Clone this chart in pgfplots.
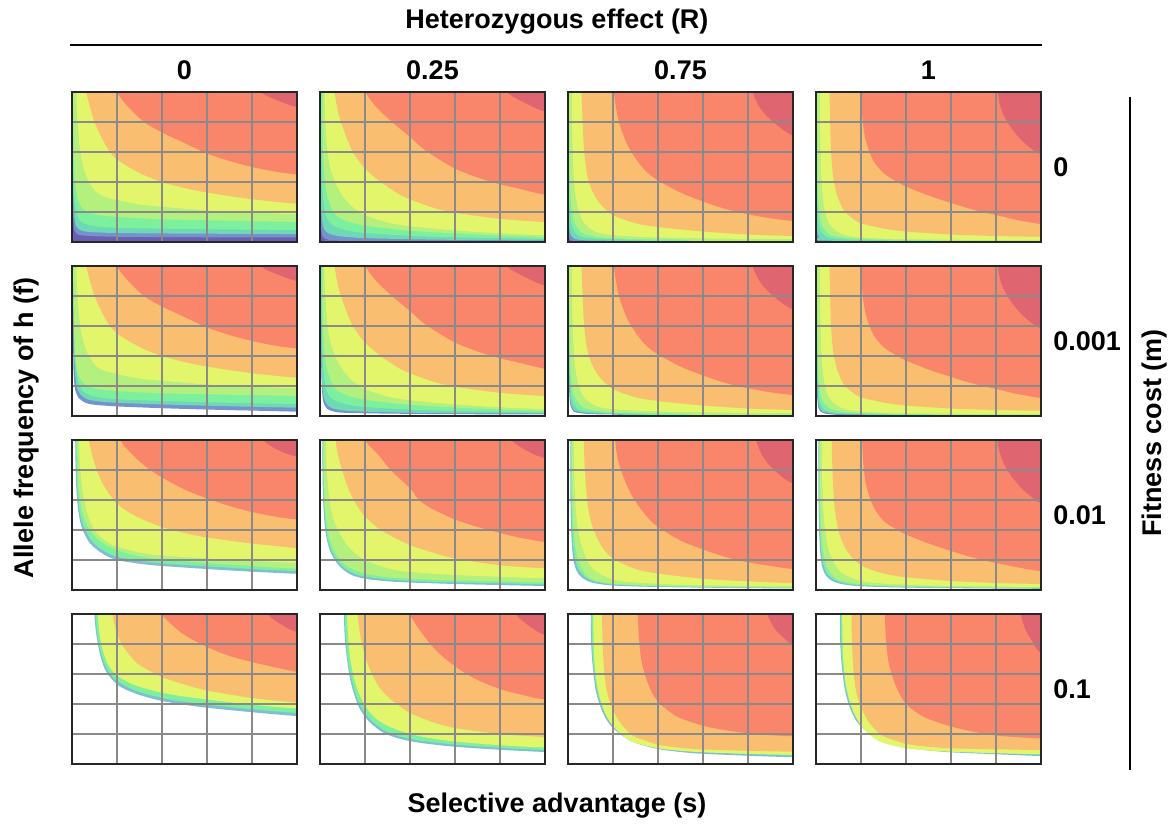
\documentclass[border=0pt]{standalone}
\usepackage{fontspec}
\setmainfont{Liberation Sans}
\usepackage{pgfplots}
\pgfplotsset{compat=1.18}
\definecolor{cD}{HTML}{DF6670}
\definecolor{cR}{HTML}{F9866A}
\definecolor{cO}{HTML}{F9BE70}
\definecolor{cY}{HTML}{E3F56B}
\definecolor{cLG}{HTML}{B3F07E}
\definecolor{cM}{HTML}{7DF09E}
\definecolor{cT}{HTML}{6FD8B4}
\definecolor{cB}{HTML}{7592CF}
\definecolor{cP}{HTML}{6A5FB0}
\definecolor{cOut}{HTML}{80BFD2}
\definecolor{gridc}{HTML}{8A8A8A}
\newcommand{\band}[2]{\addplot[draw=none,fill=#1,smooth,forget plot] coordinates {#2 (1.6,1.6) (-0.6,1.6)};}
\newcommand{\bg}[1]{\addplot[draw=none,fill=#1,forget plot] coordinates {(-0.1,-0.1) (1.1,-0.1) (1.1,1.1) (-0.1,1.1)};}
\pgfplotsset{panel/.style={scale only axis, width=112.5pt, height=75pt,
  xmin=0,xmax=1,ymin=0,ymax=1,
  xtick={0.2,0.4,0.6,0.8}, ytick={0.2,0.4,0.6,0.8},
  xticklabels={}, yticklabels={},
  xticklabel style={opacity=0,text opacity=0}, yticklabel style={opacity=0,text opacity=0},
  tick style={draw=none},
  grid=major, grid style={line width=0.6pt, color=gridc},
  axis line style={line width=0.9pt, black!85},
  axis on top, anchor=south west}}
% ---------- upper bands shared by rows 1 and 2 ----------
\newcommand{\upA}{%
\band{cLG}{(0.005,1.1)(0.006,0.8)(0.009,0.55)(0.014,0.4)(0.025,0.29)(0.05,0.22)(0.1,0.185)(0.2,0.167)(0.4,0.152)(0.7,0.142)(1.0,0.134)(1.1,0.134)}
\band{cY}{(0.018,1.1)(0.019,1.0)(0.025,0.8)(0.035,0.62)(0.05,0.5)(0.075,0.4)(0.11,0.33)(0.15,0.3)(0.2,0.28)(0.3,0.25)(0.4,0.235)(0.6,0.21)(0.8,0.195)(1.0,0.185)(1.1,0.185)}
\band{cO}{(0.063,1.1)(0.064,1.0)(0.08,0.9)(0.1,0.8)(0.13,0.7)(0.16,0.62)(0.2,0.55)(0.3,0.46)(0.4,0.4)(0.5,0.36)(0.6,0.33)(0.8,0.285)(1.0,0.255)(1.1,0.25)}
\band{cR}{(0.2,1.1)(0.2,1.0)(0.25,0.9)(0.32,0.8)(0.4,0.73)(0.5,0.66)(0.6,0.59)(0.7,0.54)(0.8,0.5)(0.9,0.47)(1.0,0.45)(1.1,0.445)}
\band{cD}{(0.83,1.1)(0.84,1.0)(0.92,0.94)(1.0,0.9)(1.1,0.89)}}
\newcommand{\upB}{%
\band{cLG}{(0.01,1.1)(0.011,0.8)(0.015,0.55)(0.022,0.4)(0.035,0.29)(0.06,0.2)(0.1,0.15)(0.2,0.11)(0.4,0.075)(0.7,0.05)(1.0,0.033)(1.1,0.033)}
\band{cY}{(0.018,1.1)(0.019,1.0)(0.024,0.8)(0.032,0.62)(0.045,0.5)(0.07,0.39)(0.1,0.31)(0.14,0.24)(0.2,0.18)(0.3,0.13)(0.4,0.105)(0.6,0.077)(0.8,0.058)(1.0,0.045)(1.1,0.045)}
\band{cO}{(0.063,1.1)(0.065,1.0)(0.08,0.87)(0.1,0.77)(0.125,0.67)(0.15,0.59)(0.2,0.49)(0.27,0.4)(0.35,0.32)(0.4,0.285)(0.5,0.23)(0.6,0.195)(0.8,0.155)(1.0,0.133)(1.1,0.13)}
\band{cR}{(0.203,1.1)(0.203,1.0)(0.25,0.9)(0.32,0.8)(0.4,0.7)(0.46,0.62)(0.52,0.56)(0.6,0.49)(0.7,0.43)(0.8,0.385)(0.9,0.35)(1.0,0.315)(1.1,0.31)}
\band{cD}{(0.82,1.1)(0.83,1.0)(0.92,0.92)(1.0,0.87)(1.1,0.86)}}
\newcommand{\upC}{%
\band{cLG}{(0.005,1.1)(0.006,0.6)(0.01,0.35)(0.02,0.18)(0.04,0.1)(0.08,0.05)(0.2,0.025)(0.5,0.016)(1.1,0.012)}
\band{cY}{(0.017,1.1)(0.018,0.8)(0.022,0.55)(0.03,0.35)(0.045,0.22)(0.07,0.13)(0.12,0.07)(0.2,0.045)(0.4,0.03)(0.7,0.022)(1.0,0.02)(1.1,0.02)}
\band{cO}{(0.058,1.1)(0.06,1.0)(0.065,0.8)(0.072,0.6)(0.085,0.45)(0.105,0.35)(0.14,0.26)(0.2,0.18)(0.3,0.125)(0.4,0.1)(0.6,0.07)(0.8,0.05)(1.0,0.04)(1.1,0.04)}
\band{cR}{(0.203,1.1)(0.204,1.0)(0.215,0.88)(0.23,0.78)(0.26,0.66)(0.29,0.58)(0.34,0.48)(0.4,0.41)(0.5,0.33)(0.6,0.27)(0.7,0.22)(0.8,0.185)(0.9,0.158)(1.0,0.14)(1.1,0.135)}
\band{cD}{(0.815,1.1)(0.82,1.0)(0.86,0.88)(0.92,0.79)(1.0,0.71)(1.1,0.69)}}
\newcommand{\upD}{%
\band{cLG}{(0.005,1.1)(0.006,0.6)(0.01,0.3)(0.02,0.15)(0.04,0.08)(0.08,0.04)(0.2,0.02)(0.5,0.012)(1.1,0.008)}
\band{cY}{(0.017,1.1)(0.018,0.8)(0.022,0.5)(0.03,0.3)(0.045,0.17)(0.07,0.1)(0.12,0.05)(0.2,0.03)(0.4,0.018)(1.0,0.012)(1.1,0.012)}
\band{cO}{(0.058,1.1)(0.06,1.0)(0.063,0.8)(0.067,0.6)(0.075,0.45)(0.09,0.33)(0.12,0.22)(0.16,0.16)(0.2,0.125)(0.3,0.09)(0.4,0.07)(0.6,0.05)(0.8,0.04)(1.0,0.035)(1.1,0.035)}
\band{cR}{(0.2,1.1)(0.2,1.0)(0.205,0.85)(0.215,0.72)(0.235,0.61)(0.26,0.53)(0.3,0.46)(0.35,0.41)(0.4,0.37)(0.5,0.31)(0.6,0.26)(0.7,0.215)(0.8,0.18)(0.9,0.145)(1.0,0.12)(1.1,0.115)}
\band{cD}{(0.805,1.1)(0.808,1.0)(0.82,0.9)(0.85,0.8)(0.9,0.7)(0.95,0.63)(1.0,0.585)(1.1,0.57)}}
\begin{document}
\begin{tikzpicture}
\path[use as bounding box] (0pt,0pt) rectangle (584pt,412.5pt);
% ================= ROW 1 (m = 0) =================
\begin{axis}[panel, at={(36pt,291.5pt)}]
\bg{cP}
\band{cB}{(-0.01,0.22)(0.004,0.18)(0.008,0.1)(0.015,0.065)(0.03,0.048)(0.08,0.04)(0.2,0.035)(0.5,0.032)(1.0,0.03)(1.1,0.03)}
\band{cT}{(-0.01,0.45)(0.004,0.35)(0.008,0.2)(0.015,0.12)(0.03,0.085)(0.07,0.068)(0.2,0.06)(0.5,0.056)(1.0,0.053)(1.1,0.053)}
\band{cM}{(0.002,1.1)(0.003,0.8)(0.005,0.5)(0.009,0.32)(0.018,0.2)(0.04,0.135)(0.1,0.105)(0.2,0.095)(0.5,0.087)(1.0,0.08)(1.1,0.08)}
\upA
\end{axis}
\begin{axis}[panel, at={(160pt,291.5pt)}]
\bg{cP}
\band{cB}{(-0.01,0.15)(0.003,0.12)(0.007,0.06)(0.015,0.03)(0.04,0.015)(0.1,0.008)(1.1,0.0)}
\band{cT}{(-0.01,0.5)(0.003,0.35)(0.006,0.2)(0.013,0.11)(0.03,0.065)(0.08,0.04)(0.2,0.026)(0.5,0.016)(1.0,0.01)(1.1,0.01)}
\band{cM}{(0.004,1.1)(0.005,0.7)(0.008,0.45)(0.013,0.3)(0.025,0.18)(0.05,0.12)(0.1,0.085)(0.2,0.06)(0.5,0.035)(1.0,0.02)(1.1,0.02)}
\upB
\end{axis}
\begin{axis}[panel, at={(284pt,291.5pt)}]
\bg{cP}
\band{cB}{(-0.01,0.2)(0.002,0.07)(0.006,0.025)(0.02,0.008)(0.1,0.0)(1.1,-0.01)}
\band{cT}{(-0.01,0.7)(0.002,0.25)(0.005,0.1)(0.015,0.04)(0.05,0.015)(0.2,0.008)(1.1,0.004)}
\band{cM}{(0.002,1.1)(0.003,0.5)(0.006,0.25)(0.015,0.12)(0.04,0.05)(0.1,0.025)(0.3,0.014)(1.1,0.008)}
\upC
\end{axis}
\begin{axis}[panel, at={(408pt,291.5pt)}]
\bg{cP}
\band{cB}{(-0.01,0.15)(0.002,0.06)(0.006,0.02)(0.02,0.005)(0.1,-0.01)(1.1,-0.01)}
\band{cT}{(-0.01,0.6)(0.001,0.4)(0.002,0.2)(0.005,0.08)(0.015,0.03)(0.05,0.01)(1.1,0.002)}
\band{cM}{(0.002,1.1)(0.003,0.5)(0.006,0.25)(0.015,0.1)(0.04,0.04)(0.1,0.02)(0.3,0.01)(1.1,0.005)}
\upD
\end{axis}
% ================= ROW 2 (m = 0.001) =================
\begin{axis}[panel, at={(36pt,204.5pt)}]
\band{cB}{(0.004,1.1)(0.005,0.6)(0.006,0.35)(0.009,0.24)(0.015,0.17)(0.03,0.12)(0.06,0.088)(0.1,0.075)(0.2,0.064)(0.4,0.052)(0.6,0.043)(0.8,0.036)(1.0,0.029)(1.1,0.029)}
\band{cT}{(0.006,1.1)(0.007,0.6)(0.01,0.38)(0.014,0.27)(0.022,0.19)(0.04,0.14)(0.07,0.11)(0.12,0.097)(0.2,0.088)(0.4,0.077)(0.7,0.065)(1.0,0.055)(1.1,0.055)}
\band{cM}{(0.008,1.1)(0.009,0.7)(0.012,0.45)(0.018,0.32)(0.03,0.22)(0.05,0.165)(0.1,0.13)(0.2,0.112)(0.4,0.1)(0.7,0.088)(1.0,0.08)(1.1,0.08)}
\upA
\end{axis}
\begin{axis}[panel, at={(160pt,204.5pt)}]
\band{cB}{(0.004,1.1)(0.005,0.4)(0.008,0.2)(0.014,0.1)(0.03,0.05)(0.06,0.03)(0.1,0.022)(0.2,0.018)(0.5,0.013)(1.0,0.01)(1.1,0.01)}
\band{cT}{(0.005,1.1)(0.006,0.45)(0.009,0.24)(0.016,0.13)(0.035,0.07)(0.07,0.045)(0.15,0.032)(0.4,0.022)(1.0,0.016)(1.1,0.016)}
\band{cM}{(0.006,1.1)(0.007,0.7)(0.01,0.45)(0.015,0.3)(0.027,0.18)(0.05,0.12)(0.1,0.085)(0.2,0.06)(0.5,0.037)(1.0,0.022)(1.1,0.022)}
\upB
\end{axis}
\begin{axis}[panel, at={(284pt,204.5pt)}]
\band{cB}{(0.003,1.1)(0.004,0.3)(0.008,0.1)(0.02,0.04)(0.05,0.02)(0.2,0.01)(1.1,0.005)}
\band{cT}{(0.004,1.1)(0.005,0.35)(0.009,0.13)(0.02,0.055)(0.05,0.028)(0.2,0.014)(1.1,0.008)}
\band{cM}{(0.005,1.1)(0.006,0.5)(0.009,0.25)(0.017,0.12)(0.04,0.05)(0.1,0.027)(0.3,0.016)(1.1,0.01)}
\upC
\end{axis}
\begin{axis}[panel, at={(408pt,204.5pt)}]
\band{cB}{(0.003,1.1)(0.004,0.25)(0.008,0.08)(0.02,0.03)(0.06,0.012)(0.2,0.006)(1.1,0.003)}
\band{cT}{(0.004,1.1)(0.005,0.3)(0.009,0.11)(0.02,0.045)(0.05,0.022)(0.2,0.01)(1.1,0.005)}
\band{cM}{(0.005,1.1)(0.006,0.45)(0.009,0.22)(0.017,0.1)(0.04,0.04)(0.1,0.02)(0.3,0.011)(1.1,0.006)}
\upD
\end{axis}
% ================= ROW 3 (m = 0.01) =================
\begin{axis}[panel, at={(36pt,117.5pt)}]
\band{cOut}{(0.014,1.1)(0.015,0.9)(0.018,0.72)(0.024,0.58)(0.033,0.48)(0.045,0.41)(0.06,0.36)(0.08,0.31)(0.11,0.27)(0.15,0.23)(0.2,0.2)(0.3,0.175)(0.4,0.16)(0.6,0.14)(0.8,0.122)(1.0,0.108)(1.1,0.105)}
\band{cM}{(0.018,1.1)(0.019,0.9)(0.022,0.72)(0.028,0.6)(0.037,0.5)(0.05,0.43)(0.066,0.38)(0.086,0.33)(0.115,0.29)(0.155,0.25)(0.2,0.222)(0.3,0.195)(0.4,0.178)(0.6,0.158)(0.8,0.14)(1.0,0.125)(1.1,0.122)}
\band{cLG}{(0.022,1.1)(0.023,0.9)(0.027,0.74)(0.034,0.62)(0.044,0.53)(0.058,0.46)(0.075,0.41)(0.1,0.36)(0.13,0.32)(0.17,0.285)(0.22,0.255)(0.3,0.225)(0.4,0.205)(0.6,0.18)(0.8,0.16)(1.0,0.142)(1.1,0.14)}
\band{cY}{(0.03,1.1)(0.031,1.0)(0.036,0.82)(0.045,0.68)(0.058,0.57)(0.075,0.48)(0.095,0.41)(0.13,0.35)(0.17,0.31)(0.2,0.29)(0.3,0.25)(0.4,0.23)(0.6,0.21)(0.8,0.195)(1.0,0.18)(1.1,0.18)}
\band{cO}{(0.074,1.1)(0.075,1.0)(0.09,0.9)(0.11,0.8)(0.14,0.7)(0.18,0.61)(0.23,0.54)(0.3,0.48)(0.4,0.42)(0.5,0.38)(0.6,0.35)(0.8,0.31)(1.0,0.28)(1.1,0.28)}
\band{cR}{(0.215,1.1)(0.215,1.0)(0.27,0.9)(0.33,0.82)(0.4,0.75)(0.5,0.67)(0.6,0.61)(0.7,0.56)(0.8,0.52)(0.9,0.49)(1.0,0.47)(1.1,0.465)}
\band{cD}{(0.845,1.1)(0.85,1.0)(0.92,0.93)(1.0,0.89)(1.1,0.885)}
\end{axis}
\begin{axis}[panel, at={(160pt,117.5pt)}]
\band{cOut}{(0.01,1.1)(0.011,0.8)(0.014,0.6)(0.02,0.45)(0.03,0.34)(0.045,0.26)(0.07,0.19)(0.1,0.14)(0.14,0.1)(0.2,0.075)(0.3,0.058)(0.4,0.05)(0.6,0.04)(0.8,0.033)(1.0,0.027)(1.1,0.027)}
\band{cM}{(0.013,1.1)(0.014,0.8)(0.017,0.6)(0.024,0.45)(0.035,0.34)(0.052,0.26)(0.08,0.19)(0.115,0.14)(0.16,0.105)(0.2,0.09)(0.3,0.07)(0.5,0.055)(0.8,0.045)(1.0,0.038)(1.1,0.038)}
\band{cLG}{(0.016,1.1)(0.017,0.8)(0.021,0.6)(0.028,0.47)(0.04,0.36)(0.06,0.27)(0.09,0.2)(0.13,0.15)(0.2,0.11)(0.3,0.085)(0.5,0.068)(0.8,0.058)(1.0,0.05)(1.1,0.05)}
\band{cY}{(0.024,1.1)(0.025,1.0)(0.03,0.8)(0.042,0.6)(0.058,0.48)(0.084,0.39)(0.12,0.3)(0.16,0.24)(0.2,0.2)(0.3,0.145)(0.4,0.12)(0.6,0.1)(0.8,0.088)(1.0,0.078)(1.1,0.078)}
\band{cO}{(0.07,1.1)(0.07,1.0)(0.08,0.9)(0.1,0.79)(0.125,0.68)(0.15,0.6)(0.2,0.49)(0.28,0.39)(0.4,0.3)(0.5,0.25)(0.6,0.21)(0.8,0.165)(1.0,0.145)(1.1,0.145)}
\band{cR}{(0.2,1.1)(0.2,1.0)(0.26,0.9)(0.32,0.79)(0.4,0.68)(0.44,0.6)(0.5,0.54)(0.6,0.47)(0.7,0.42)(0.8,0.38)(0.9,0.345)(1.0,0.32)(1.1,0.315)}
\band{cD}{(0.84,1.1)(0.85,1.0)(0.93,0.92)(1.0,0.88)(1.1,0.875)}
\end{axis}
\begin{axis}[panel, at={(284pt,117.5pt)}]
\band{cOut}{(0.01,1.1)(0.011,0.6)(0.014,0.4)(0.02,0.25)(0.03,0.16)(0.05,0.1)(0.08,0.065)(0.12,0.045)(0.2,0.03)(0.4,0.02)(0.7,0.014)(1.0,0.01)(1.1,0.01)}
\band{cM}{(0.013,1.1)(0.014,0.7)(0.017,0.45)(0.023,0.3)(0.033,0.2)(0.05,0.13)(0.08,0.083)(0.12,0.057)(0.2,0.037)(0.4,0.025)(0.7,0.018)(1.0,0.014)(1.1,0.014)}
\band{cLG}{(0.016,1.1)(0.017,0.8)(0.02,0.55)(0.026,0.38)(0.036,0.26)(0.05,0.18)(0.075,0.11)(0.11,0.07)(0.2,0.042)(0.4,0.028)(0.7,0.02)(1.0,0.017)(1.1,0.017)}
\band{cY}{(0.024,1.1)(0.025,1.0)(0.028,0.75)(0.034,0.55)(0.045,0.4)(0.06,0.3)(0.085,0.2)(0.12,0.13)(0.2,0.07)(0.3,0.05)(0.5,0.035)(0.8,0.027)(1.0,0.024)(1.1,0.024)}
\band{cO}{(0.068,1.1)(0.07,1.0)(0.075,0.8)(0.085,0.6)(0.1,0.47)(0.12,0.38)(0.15,0.29)(0.2,0.21)(0.3,0.14)(0.4,0.11)(0.6,0.075)(0.8,0.058)(1.0,0.045)(1.1,0.045)}
\band{cR}{(0.21,1.1)(0.21,1.0)(0.22,0.88)(0.24,0.78)(0.27,0.67)(0.3,0.59)(0.35,0.49)(0.4,0.42)(0.5,0.33)(0.6,0.27)(0.7,0.22)(0.8,0.185)(0.9,0.16)(1.0,0.14)(1.1,0.135)}
\band{cD}{(0.83,1.1)(0.835,1.0)(0.87,0.88)(0.93,0.78)(1.0,0.71)(1.1,0.69)}
\end{axis}
\begin{axis}[panel, at={(408pt,117.5pt)}]
\band{cOut}{(0.01,1.1)(0.011,0.6)(0.014,0.38)(0.02,0.23)(0.03,0.14)(0.05,0.085)(0.08,0.055)(0.12,0.038)(0.2,0.025)(0.4,0.016)(0.7,0.011)(1.0,0.008)(1.1,0.008)}
\band{cM}{(0.013,1.1)(0.014,0.65)(0.017,0.42)(0.023,0.27)(0.033,0.17)(0.05,0.11)(0.08,0.07)(0.12,0.048)(0.2,0.031)(0.4,0.021)(0.7,0.015)(1.0,0.012)(1.1,0.012)}
\band{cLG}{(0.016,1.1)(0.017,0.75)(0.02,0.5)(0.026,0.33)(0.036,0.22)(0.05,0.15)(0.075,0.095)(0.11,0.062)(0.2,0.037)(0.4,0.025)(0.7,0.018)(1.0,0.015)(1.1,0.015)}
\band{cY}{(0.024,1.1)(0.025,1.0)(0.028,0.7)(0.034,0.5)(0.045,0.35)(0.06,0.25)(0.085,0.17)(0.12,0.11)(0.2,0.06)(0.3,0.043)(0.5,0.03)(0.8,0.023)(1.0,0.02)(1.1,0.02)}
\band{cO}{(0.068,1.1)(0.07,1.0)(0.073,0.8)(0.08,0.6)(0.09,0.47)(0.105,0.37)(0.13,0.28)(0.17,0.2)(0.22,0.15)(0.3,0.11)(0.4,0.085)(0.6,0.06)(0.8,0.047)(1.0,0.04)(1.1,0.04)}
\band{cR}{(0.205,1.1)(0.205,1.0)(0.21,0.85)(0.22,0.72)(0.24,0.61)(0.265,0.53)(0.3,0.46)(0.35,0.41)(0.4,0.37)(0.5,0.31)(0.6,0.26)(0.7,0.215)(0.8,0.18)(0.9,0.15)(1.0,0.125)(1.1,0.12)}
\band{cD}{(0.8,1.1)(0.805,1.0)(0.82,0.9)(0.85,0.8)(0.9,0.7)(0.95,0.63)(1.0,0.58)(1.1,0.565)}
\end{axis}
% ================= ROW 4 (m = 0.1) =================
\begin{axis}[panel, at={(36pt,30.5pt)}]
\band{cOut}{(0.1,1.1)(0.1,1.0)(0.105,0.9)(0.115,0.8)(0.13,0.7)(0.15,0.62)(0.18,0.56)(0.22,0.51)(0.3,0.46)(0.4,0.42)(0.5,0.395)(0.6,0.375)(0.8,0.345)(1.0,0.32)(1.1,0.32)}
\band{cM}{(0.105,1.1)(0.105,1.0)(0.11,0.9)(0.12,0.8)(0.135,0.71)(0.155,0.635)(0.185,0.575)(0.225,0.53)(0.3,0.48)(0.4,0.44)(0.5,0.415)(0.6,0.395)(0.8,0.365)(1.0,0.34)(1.1,0.34)}
\band{cY}{(0.115,1.1)(0.115,1.0)(0.12,0.9)(0.13,0.8)(0.145,0.72)(0.165,0.65)(0.2,0.59)(0.25,0.545)(0.3,0.515)(0.4,0.475)(0.5,0.45)(0.6,0.43)(0.8,0.395)(1.0,0.37)(1.1,0.37)}
\band{cO}{(0.18,1.1)(0.18,1.0)(0.195,0.9)(0.22,0.8)(0.26,0.72)(0.3,0.66)(0.4,0.58)(0.5,0.53)(0.6,0.49)(0.8,0.44)(1.0,0.41)(1.1,0.41)}
\band{cR}{(0.4,1.1)(0.4,1.0)(0.45,0.92)(0.5,0.86)(0.6,0.78)(0.7,0.72)(0.8,0.68)(0.9,0.645)(1.0,0.615)(1.1,0.61)}
\band{cD}{(0.86,1.1)(0.87,1.0)(0.93,0.93)(1.0,0.88)(1.1,0.87)}
\end{axis}
\begin{axis}[panel, at={(160pt,30.5pt)}]
\band{cOut}{(0.105,1.1)(0.106,1.0)(0.11,0.85)(0.12,0.7)(0.135,0.56)(0.155,0.45)(0.18,0.36)(0.22,0.28)(0.28,0.21)(0.35,0.17)(0.45,0.14)(0.6,0.115)(0.8,0.095)(1.0,0.08)(1.1,0.08)}
\band{cM}{(0.109,1.1)(0.11,1.0)(0.114,0.85)(0.124,0.7)(0.14,0.57)(0.16,0.46)(0.185,0.375)(0.225,0.295)(0.285,0.225)(0.35,0.185)(0.45,0.155)(0.6,0.13)(0.8,0.108)(1.0,0.093)(1.1,0.093)}
\band{cY}{(0.118,1.1)(0.12,1.0)(0.125,0.85)(0.135,0.7)(0.15,0.58)(0.17,0.48)(0.2,0.39)(0.24,0.315)(0.3,0.255)(0.4,0.2)(0.5,0.17)(0.6,0.15)(0.8,0.125)(1.0,0.11)(1.1,0.11)}
\band{cO}{(0.165,1.1)(0.167,1.0)(0.18,0.85)(0.2,0.72)(0.225,0.62)(0.26,0.52)(0.3,0.45)(0.35,0.39)(0.4,0.34)(0.5,0.28)(0.6,0.24)(0.8,0.2)(1.0,0.18)(1.1,0.18)}
\band{cR}{(0.4,1.1)(0.4,1.0)(0.44,0.9)(0.49,0.8)(0.55,0.71)(0.62,0.63)(0.7,0.56)(0.8,0.5)(0.9,0.46)(1.0,0.43)(1.1,0.43)}
\band{cD}{(0.86,1.1)(0.87,1.0)(0.93,0.92)(1.0,0.86)(1.1,0.85)}
\end{axis}
\begin{axis}[panel, at={(284pt,30.5pt)}]
\band{cOut}{(0.1,1.1)(0.101,1.0)(0.103,0.8)(0.11,0.65)(0.122,0.5)(0.14,0.4)(0.165,0.31)(0.2,0.24)(0.25,0.18)(0.3,0.14)(0.4,0.1)(0.5,0.08)(0.6,0.068)(0.8,0.055)(1.0,0.045)(1.1,0.045)}
\band{cM}{(0.104,1.1)(0.105,1.0)(0.107,0.8)(0.114,0.65)(0.126,0.51)(0.144,0.41)(0.17,0.32)(0.205,0.25)(0.255,0.19)(0.3,0.155)(0.4,0.113)(0.5,0.092)(0.6,0.08)(0.8,0.066)(1.0,0.056)(1.1,0.056)}
\band{cY}{(0.112,1.1)(0.113,0.9)(0.117,0.7)(0.127,0.55)(0.142,0.44)(0.162,0.35)(0.187,0.28)(0.22,0.22)(0.26,0.17)(0.3,0.14)(0.4,0.105)(0.5,0.088)(0.6,0.078)(0.8,0.068)(1.0,0.062)(1.1,0.062)}
\band{cO}{(0.15,1.1)(0.151,1.0)(0.154,0.8)(0.162,0.6)(0.175,0.47)(0.195,0.38)(0.225,0.29)(0.265,0.22)(0.3,0.18)(0.4,0.13)(0.5,0.108)(0.6,0.097)(0.8,0.088)(1.0,0.082)(1.1,0.082)}
\band{cR}{(0.31,1.1)(0.31,1.0)(0.315,0.85)(0.325,0.7)(0.345,0.58)(0.375,0.47)(0.41,0.4)(0.46,0.34)(0.5,0.305)(0.6,0.255)(0.7,0.225)(0.8,0.205)(0.9,0.192)(1.0,0.185)(1.1,0.185)}
\band{cD}{(0.88,1.1)(0.885,1.0)(0.92,0.9)(0.96,0.84)(1.0,0.8)(1.1,0.79)}
\end{axis}
\begin{axis}[panel, at={(408pt,30.5pt)}]
\band{cOut}{(0.105,1.1)(0.106,1.0)(0.108,0.8)(0.115,0.65)(0.128,0.5)(0.145,0.4)(0.17,0.31)(0.2,0.25)(0.25,0.19)(0.3,0.15)(0.4,0.11)(0.5,0.09)(0.6,0.078)(0.8,0.065)(1.0,0.053)(1.1,0.053)}
\band{cM}{(0.109,1.1)(0.11,1.0)(0.112,0.8)(0.119,0.65)(0.132,0.51)(0.149,0.41)(0.174,0.32)(0.205,0.26)(0.255,0.2)(0.3,0.163)(0.4,0.122)(0.5,0.1)(0.6,0.088)(0.8,0.075)(1.0,0.062)(1.1,0.062)}
\band{cY}{(0.116,1.1)(0.117,0.9)(0.121,0.7)(0.131,0.55)(0.146,0.44)(0.166,0.35)(0.19,0.28)(0.22,0.22)(0.26,0.17)(0.3,0.14)(0.4,0.105)(0.5,0.09)(0.6,0.082)(0.8,0.072)(1.0,0.065)(1.1,0.065)}
\band{cO}{(0.157,1.1)(0.158,1.0)(0.16,0.8)(0.168,0.6)(0.18,0.47)(0.2,0.38)(0.23,0.29)(0.27,0.22)(0.3,0.185)(0.4,0.135)(0.5,0.115)(0.6,0.105)(0.8,0.098)(1.0,0.093)(1.1,0.093)}
\band{cR}{(0.305,1.1)(0.306,1.0)(0.31,0.85)(0.32,0.7)(0.34,0.58)(0.37,0.47)(0.4,0.4)(0.45,0.34)(0.5,0.3)(0.6,0.25)(0.7,0.215)(0.8,0.19)(0.9,0.178)(1.0,0.17)(1.1,0.17)}
\band{cD}{(0.905,1.1)(0.91,1.0)(0.93,0.9)(0.96,0.82)(1.0,0.74)(1.1,0.72)}
\end{axis}
% ================= labels =================
\begin{scope}[every node/.style={font=\bfseries\fontsize{13.5}{16}\selectfont, inner sep=0pt}]
\node at (278.5pt,401.5pt) {Heterozygous effect (R)};
\draw[line width=1.3pt] (35pt,390pt) -- (521pt,390pt);
\node at (92.25pt,377.5pt) {0};
\node at (216.25pt,377.5pt) {0.25};
\node at (340.25pt,377.5pt) {0.75};
\node at (464.25pt,377.5pt) {1};
\node[anchor=west] at (526.5pt,329pt) {0};
\node[anchor=west] at (526.5pt,242pt) {0.001};
\node[anchor=west] at (526.5pt,155pt) {0.01};
\node[anchor=west] at (526.5pt,68pt) {0.1};
\draw[line width=1.3pt] (565pt,364pt) -- (565pt,27.5pt);
\node[rotate=90] at (577.5pt,196pt) {Fitness cost (m)};
\node[rotate=90] at (13.5pt,198.5pt) {Allele frequency of h (f)};
\node at (278.5pt,9.5pt) {Selective advantage (s)};
\end{scope}
\end{tikzpicture}
\end{document}
